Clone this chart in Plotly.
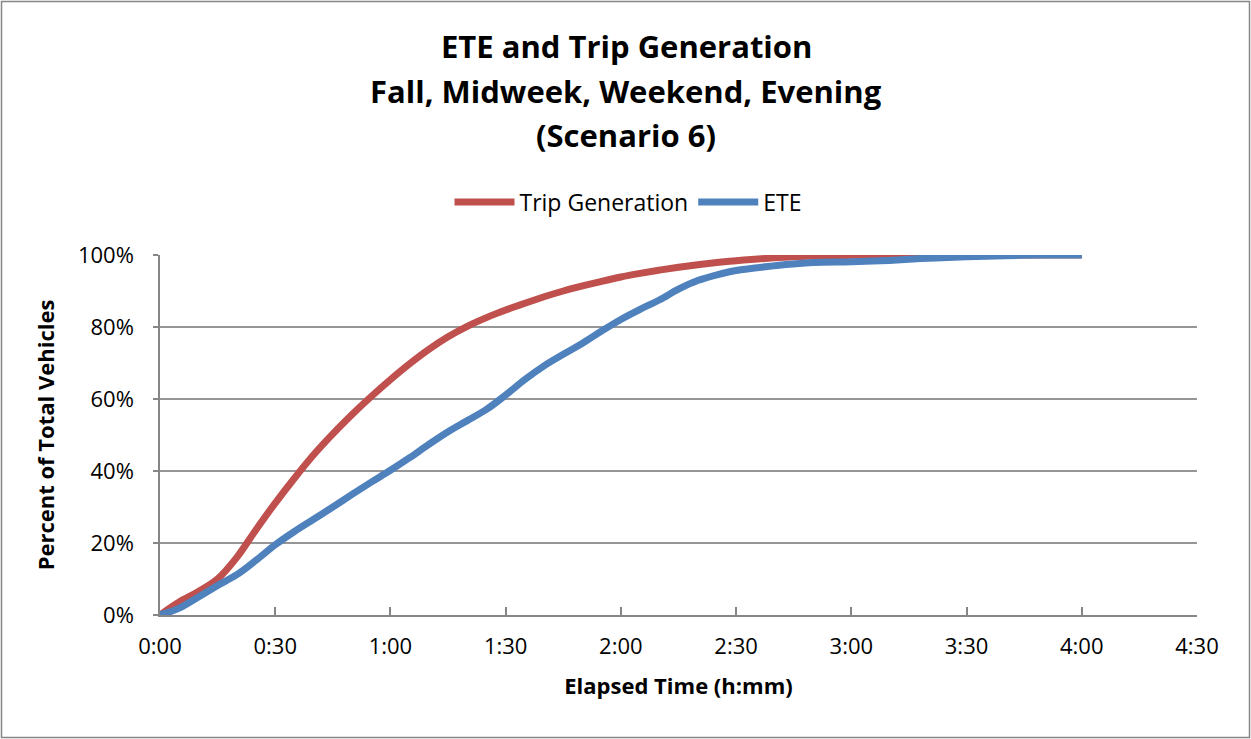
import plotly.graph_objects as go

# ---- data (minutes elapsed, fraction of total vehicles) ----
minutes = [0, 5, 10, 15, 20, 25, 30, 35, 40, 45, 50, 55, 60, 65, 70, 75, 80, 85, 90,
           95, 100, 105, 110, 115, 120, 125, 130, 135, 140, 145, 150, 160, 170, 180,
           190, 200, 210, 220, 230, 240]
trip_generation = [0.000, 0.036, 0.065, 0.100, 0.160, 0.237, 0.311, 0.380, 0.445, 0.503,
                   0.557, 0.607, 0.654, 0.698, 0.738, 0.773, 0.802, 0.826, 0.847,
                   0.866, 0.884, 0.900, 0.914, 0.927, 0.939, 0.949, 0.958, 0.966,
                   0.973, 0.979, 0.984, 0.992, 0.997, 0.999, 1.000, 1.000, 1.000,
                   1.000, 1.000, 1.000]
ete = [0.000, 0.019, 0.050, 0.082, 0.112, 0.152, 0.195, 0.232, 0.266, 0.300, 0.335,
       0.369, 0.402, 0.437, 0.474, 0.509, 0.540, 0.571, 0.611, 0.654, 0.692, 0.724,
       0.755, 0.789, 0.821, 0.849, 0.875, 0.905, 0.929, 0.945, 0.957, 0.970,
       0.979, 0.981, 0.985, 0.991, 0.995, 0.998, 1.000, 1.000]

x_tick_vals = [0, 30, 60, 90, 120, 150, 180, 210, 240, 270]
x_tick_text = ["0:00", "0:30", "1:00", "1:30", "2:00", "2:30", "3:00", "3:30", "4:00", "4:30"]
y_tick_vals = [0, 0.2, 0.4, 0.6, 0.8, 1.0]

title_lines = ["ETE and Trip Generation", "Fall, Midweek, Weekend, Evening", "(Scenario 6)"]

# ---- layout geometry ----
W, H = 1251, 739
ML, MR, MT, MB = 160, 54, 255, 124
PW, PH = W - ML - MR, H - MT - MB
FONT = "Open Sans"

def px_x(x):
    return (x - ML) / PW

def px_y(y):
    return (H - MB - y) / PH

fig = go.Figure()
fig.add_trace(go.Scatter(x=minutes, y=trip_generation, name="Trip Generation",
                         mode="lines", line=dict(color="#C0504D", width=7, shape="spline", smoothing=1.0)))
fig.add_trace(go.Scatter(x=minutes, y=ete, name="ETE",
                         mode="lines", line=dict(color="#4F81BD", width=7, shape="spline", smoothing=1.0)))

annotations = []
for line, yc in zip(title_lines, [46, 91, 135]):
    annotations.append(dict(text="<b>%s</b>" % line, xref="paper", yref="paper",
                            x=px_x(626), y=px_y(yc), xanchor="center", yanchor="middle",
                            showarrow=False, font=dict(family=FONT, size=31, color="#000000")))

fig.update_layout(
    width=W, height=H,
    margin=dict(l=ML, r=MR, t=MT, b=MB, pad=0),
    paper_bgcolor="white", plot_bgcolor="white",
    font=dict(family=FONT, size=22, color="#000000"),
    showlegend=True,
    legend=dict(orientation="h", x=px_x(628), y=px_y(202), xanchor="center", yanchor="middle",
                font=dict(family=FONT, size=23), itemwidth=60, tracegroupgap=0,
                bgcolor="rgba(0,0,0,0)"),
    annotations=annotations,
    shapes=[dict(type="rect", xref="paper", yref="paper",
                 x0=px_x(1.5), x1=px_x(W - 1.5), y0=px_y(H - 1.5), y1=px_y(1.5),
                 line=dict(color="#868686", width=1.5), layer="below")],
)

fig.update_xaxes(range=[0, 270], tickvals=x_tick_vals, ticktext=x_tick_text,
                 showgrid=False, zeroline=False, showline=True, linecolor="#868686", linewidth=1.5,
                 ticks="inside", ticklen=8, tickcolor="#868686", tickwidth=1.5,
                 tickfont=dict(family=FONT, size=22), ticklabelstandoff=11,
                 title=dict(text="<b>Elapsed Time (h:mm)</b>", font=dict(family=FONT, size=22), standoff=19))
fig.update_yaxes(range=[0, 1], tickvals=y_tick_vals, tickformat=".0%",
                 showgrid=True, gridcolor="#969696", gridwidth=1.5, zeroline=False,
                 showline=True, linecolor="#868686", linewidth=1.5,
                 ticks="outside", ticklen=5, tickcolor="#868686", tickwidth=1.5,
                 tickfont=dict(family=FONT, size=22), ticklabelstandoff=15,
                 title=dict(text="<b>Percent of Total Vehicles</b>", font=dict(family=FONT, size=22), standoff=17))

fig.write_html("out.html")
